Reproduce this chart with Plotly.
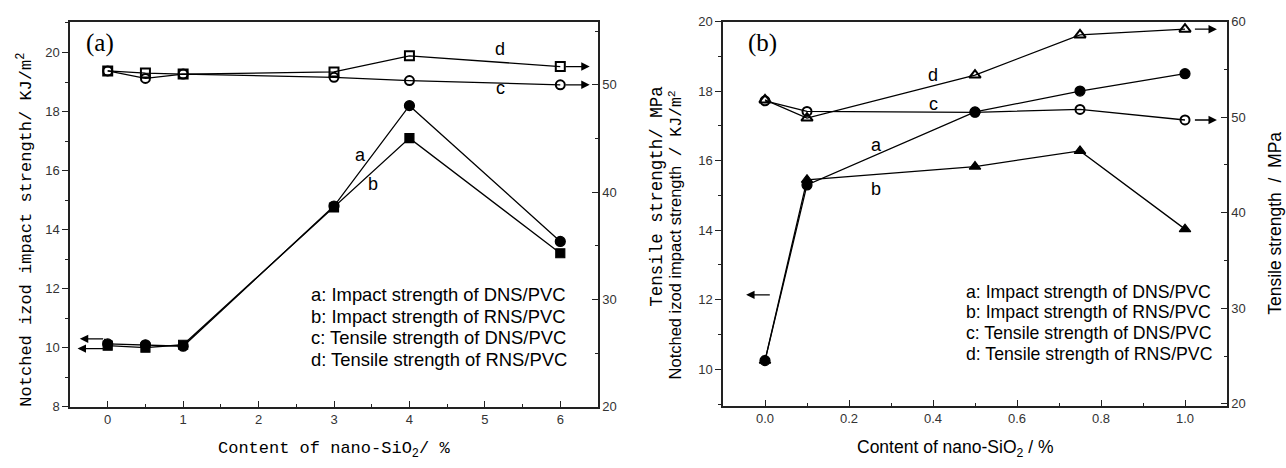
import plotly.graph_objects as go

# ---------------- data: panel (a) ----------------
content_a = [0, 0.5, 1, 3, 4, 6]
impact_dns_a = [10.13, 10.10, 10.05, 14.80, 18.20, 13.60]
impact_rns_a = [10.07, 10.00, 10.10, 14.75, 17.10, 13.20]
tensile_dns_a = [51.3, 50.6, 51.0, 50.7, 50.4, 50.0]
tensile_rns_a = [51.3, 51.1, 51.0, 51.2, 52.7, 51.7]

# ---------------- data: panel (b) ----------------
content_b = [0, 0.1, 0.5, 0.75, 1.0]
impact_dns_b = [10.25, 15.30, 17.40, 18.00, 18.50]
impact_rns_b = [10.25, 15.45, 15.83, 16.28, 14.03]
tensile_dns_b = [51.7, 50.6, 50.5, 50.8, 49.7]
tensile_rns_b = [51.8, 49.9, 54.4, 58.6, 59.2]

legend_lines = [
    "a: Impact strength of DNS/PVC",
    "b: Impact strength of RNS/PVC",
    "c: Tensile strength of DNS/PVC",
    "d: Tensile strength of RNS/PVC",
]

W, H = 1286, 468
SANS = "Liberation Sans, Arial, sans-serif"
MONO = "Liberation Mono, DejaVu Sans Mono, monospace"
SERIF = "Liberation Serif, Times New Roman, serif"


def px(x):
    return x / W


def py(y):
    return 1 - y / H


fig = go.Figure()

line_style = dict(color="black", width=1.3)


def add_series(x, y, xa, ya, symbol, size=9, lw=1.2):
    fig.add_trace(go.Scatter(
        x=x, y=y, xaxis=xa, yaxis=ya, mode="lines+markers",
        line=line_style,
        marker=dict(symbol=symbol, size=size, color="black",
                    line=dict(color="black", width=lw)),
        showlegend=False, hoverinfo="x+y",
    ))


# panel (a)
add_series(content_a, impact_dns_a, "x", "y", "circle", 10)
add_series(content_a, impact_rns_a, "x", "y", "square", 9)
add_series(content_a, tensile_dns_a, "x", "y2", "circle-open", 9, 2)
add_series(content_a, tensile_rns_a, "x", "y2", "square-open", 9, 2)

# panel (b)
add_series(content_b, impact_dns_b, "x2", "y3", "circle", 10)
add_series(content_b, impact_rns_b, "x2", "y3", "triangle-up", 10)
add_series(content_b, tensile_dns_b, "x2", "y4", "circle-open", 9, 2)
add_series(content_b, tensile_rns_b, "x2", "y4", "triangle-up-open", 10, 2)

tick_font = dict(family=SANS, size=13, color="#333")

common_x = dict(showline=True, linecolor="#222", linewidth=1.5, mirror=True,
                ticks="inside", ticklen=6, tickwidth=1.2, tickcolor="#222",
                showgrid=False, zeroline=False, tickfont=tick_font)
left_y = dict(showline=True, linecolor="#222", linewidth=1.5,
              ticks="outside", ticklen=6, tickwidth=1.2, tickcolor="#222",
              showgrid=False, zeroline=False, tickfont=tick_font)
right_y = dict(showline=True, linecolor="#222", linewidth=1.5, side="right",
               ticks="inside", ticklen=6, tickwidth=1.2, tickcolor="#222",
               showgrid=False, zeroline=False, tickfont=tick_font)

dom_ya = [py(413), py(15)]
dom_yb = [py(412), py(15)]

fig.update_layout(
    width=W, height=H,
    margin=dict(l=0, r=0, t=0, b=0),
    paper_bgcolor="white", plot_bgcolor="white",
    xaxis=dict(common_x, domain=[px(70), px(598)], range=[-0.5, 6.5],
               tick0=0, dtick=1, anchor="y",
               minor=dict(dtick=0.5, ticks="inside", ticklen=3, tickcolor="#222")),
    yaxis=dict(left_y, domain=dom_ya, range=[8, 21.05], tick0=8, dtick=2, anchor="x",
               minor=dict(dtick=1, ticks="outside", ticklen=3, tickcolor="#222")),
    yaxis2=dict(right_y, domain=dom_ya, range=[20, 55.9], tick0=20, dtick=10,
                overlaying="y", anchor="x",
                minor=dict(dtick=5, ticks="inside", ticklen=3, tickcolor="#222")),
    xaxis2=dict(common_x, domain=[px(723), px(1227)], range=[-0.1, 1.1],
                tick0=0, dtick=0.2, tickformat=".1f", anchor="y3",
                minor=dict(dtick=0.1, ticks="inside", ticklen=3, tickcolor="#222")),
    yaxis3=dict(left_y, domain=dom_yb, range=[8.95, 20], tick0=10, dtick=2, anchor="x2",
                minor=dict(dtick=1, ticks="outside", ticklen=3, tickcolor="#222")),
    yaxis4=dict(right_y, domain=dom_yb, range=[19.8, 60], tick0=20, dtick=10,
                overlaying="y3", anchor="x2",
                minor=dict(dtick=5, ticks="inside", ticklen=3, tickcolor="#222")),
)

ann = []


def text(x, y, s, size=17, family=SANS, angle=0, xanchor="center", color="black"):
    ann.append(dict(x=px(x), y=py(y), xref="paper", yref="paper", text=s,
                    showarrow=False, xanchor=xanchor, yanchor="middle",
                    textangle=angle, font=dict(family=family, size=size, color=color)))


def arrow(xref, yref, x_head, y, x_tail):
    ann.append(dict(x=x_head, y=y, ax=x_tail, ay=y, xref=xref, yref=yref,
                    axref=xref, ayref=yref, text="", showarrow=True,
                    arrowhead=2, arrowsize=1.3, arrowwidth=1.3, arrowcolor="black"))


# panel labels
text(100, 37, "(a)", size=25, family=SERIF)
text(762, 37, "(b)", size=25, family=SERIF)

# curve letters (a)
text(500, 43, "d", size=18)
text(500, 84, "c", size=18)
text(360, 153, "a", size=18)
text(373, 183, "b", size=18)
# curve letters (b)
text(933, 70, "d", size=18)
text(933, 100, "c", size=18)
text(876, 143, "a", size=18)
text(876, 188, "b", size=18)

# key text blocks
for i, s in enumerate(legend_lines):
    text(309, 297 + i * 22.3, s, size=18.4, xanchor="left")
    text(964, 294 + i * 21.4, s, size=17.7, xanchor="left")

# axis titles (a)
text(25, 230, "Notched izod impact strength/ KJ/m<sup>2</sup>", size=17,
     family=MONO, angle=-90)
text(657, 196, "Tensile strength/ MPa", size=17.5, family=MONO, angle=-90)
text(334, 458, "Content of nano-SiO<sub>2</sub>/ %", size=17, family=MONO)

# axis titles (b)
text(676, 236, "Notched izod impact strength  "
     "<span style='font-family:Liberation Mono'>/ KJ/m<sup>2</sup></span>",
     size=16.5, angle=-90)
text(1275, 224, "Tensile strength  /  MPa", size=17.5, angle=-90)
text(955, 456, "Content of nano-SiO<sub>2</sub> / %", size=17.5)

# axis-pointing arrows (a)
arrow("x", "y2", 6.39, tensile_rns_a[-1], 6.05)
arrow("x", "y2", 6.39, tensile_dns_a[-1], 6.05)
arrow("x", "y", -0.37, 10.30, -0.04)
arrow("x", "y", -0.40, 9.97, -0.04)
# axis-pointing arrows (b)
arrow("x2", "y4", 1.076, tensile_rns_b[-1], 1.02)
arrow("x2", "y4", 1.076, tensile_dns_b[-1], 1.02)
arrow("x2", "y3", -0.045, 12.14, 0.015)

fig.update_layout(annotations=ann)

# bracket joining the two left arrows of panel (a)
fig.add_shape(type="line", xref="x", yref="y", x0=-0.04, x1=-0.04, y0=9.97, y1=10.30,
              line=dict(color="black", width=1.3))

fig.write_html("out.html")
